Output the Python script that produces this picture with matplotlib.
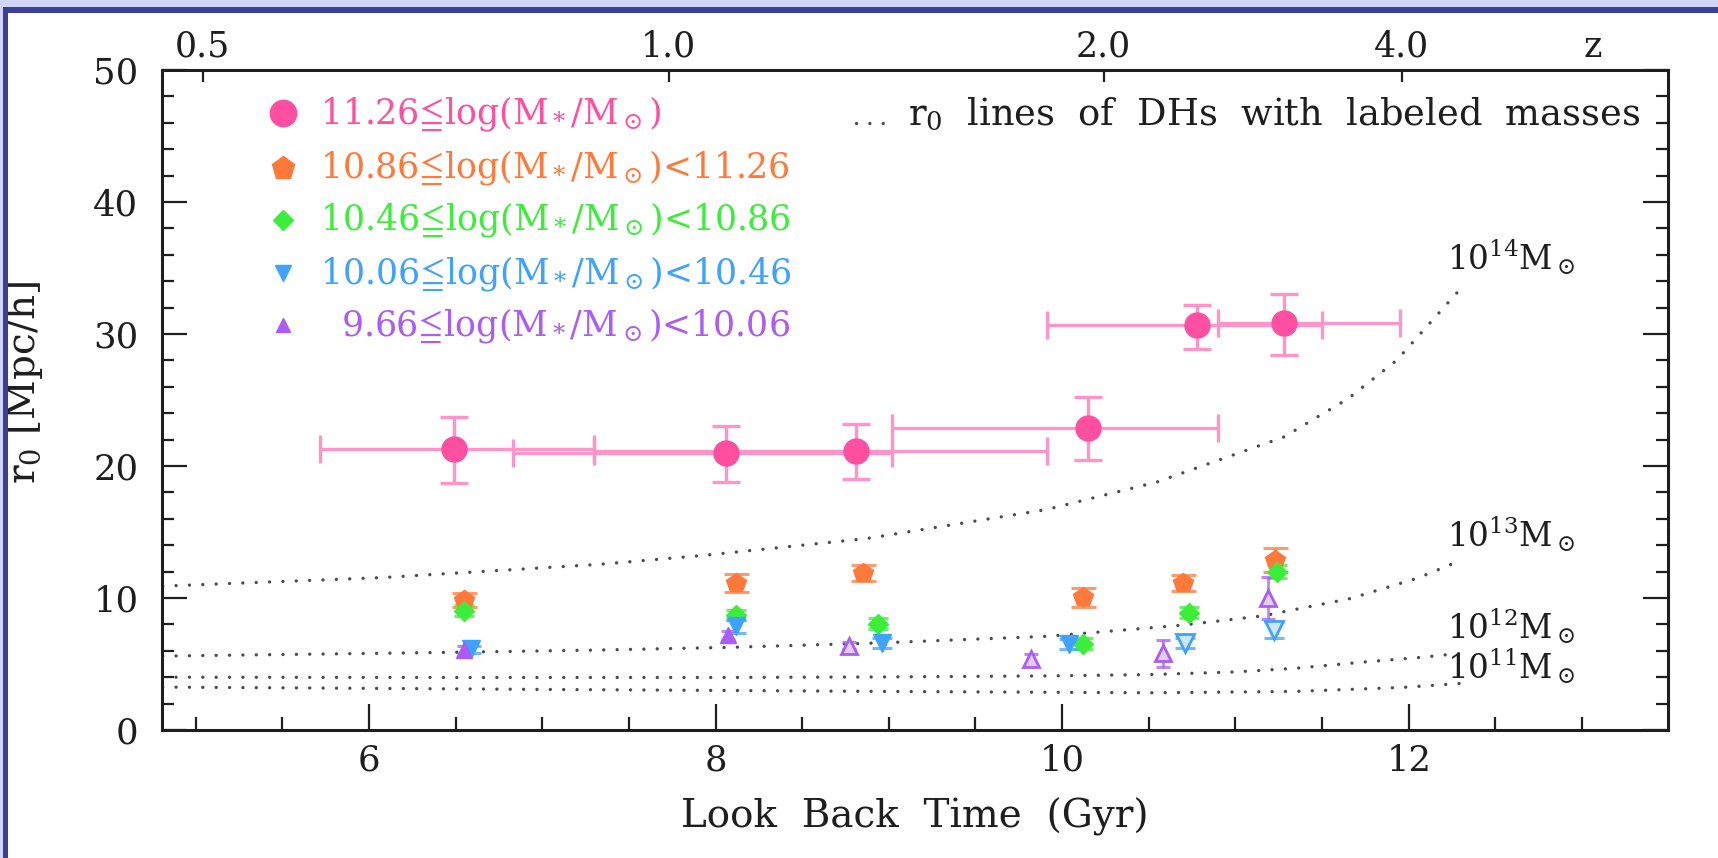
import matplotlib
matplotlib.use("Agg")
import matplotlib.pyplot as plt
from matplotlib.patches import Rectangle
from matplotlib.ticker import MultipleLocator, FixedLocator, FixedFormatter, NullLocator

plt.rcParams["font.family"] = ["DejaVu Serif", "DejaVu Sans"]
plt.rcParams["mathtext.fontset"] = "dejavuserif"

# ---------------------------------------------------------------- data
# redshift axis: tick values and the look-back times (Gyr) they sit at
z_ticks = [0.5, 1.0, 2.0, 4.0]
z_tick_lbt = [5.04, 7.73, 10.24, 11.96]

# 11.26 <= log(M*/Msun)  -- overlapping redshift bins
lbt_a = [6.49, 8.06, 8.81, 10.15, 10.78, 11.28]
lbt_a_lo = [5.72, 6.83, 7.30, 9.02, 9.91, 10.90]
lbt_a_hi = [7.30, 9.02, 9.91, 10.90, 11.50, 11.95]
r0_a = [21.3, 21.0, 21.15, 22.9, 30.7, 30.8]
r0_a_elo = [2.6, 2.2, 2.15, 2.45, 1.8, 2.4]
r0_a_ehi = [2.4, 2.0, 2.0, 2.3, 1.5, 2.2]

# 10.86 <= log(M*/Msun) < 11.26
lbt_b = [6.55, 8.12, 8.85, 10.12, 10.70, 11.23]
r0_b = [9.85, 11.15, 11.9, 10.05, 11.15, 12.9]
r0_b_err = [0.5, 0.7, 0.6, 0.7, 0.6, 0.9]

# 10.46 <= log(M*/Msun) < 10.86
lbt_c = [6.55, 8.12, 8.94, 10.12, 10.73, 11.24]
r0_c = [9.05, 8.7, 8.05, 6.55, 8.9, 12.0]
r0_c_err = [0.4, 0.4, 0.4, 0.4, 0.4, 0.5]

# 10.06 <= log(M*/Msun) < 10.46
lbt_d = [6.59, 8.12, 8.96, 10.04, 10.71, 11.22]
r0_d = [6.1, 7.85, 6.6, 6.5, 6.6, 7.6]
r0_d_err = [0.3, 0.5, 0.4, 0.4, 0.4, 0.6]

# 9.66 <= log(M*/Msun) < 10.06
lbt_e = [6.55, 8.07, 8.77, 9.82, 10.58, 11.19]
r0_e = [6.05, 7.2, 6.4, 5.35, 5.8, 10.0]
r0_e_err = [0.3, 0.3, 0.3, 0.4, 1.0, 1.6]

LEQ = r"$\!\leqq\!$"
bin_labels = [
    "11.26" + LEQ + r"log(M$_*$/M$_\odot$)",
    "10.86" + LEQ + r"log(M$_*$/M$_\odot$)<11.26",
    "10.46" + LEQ + r"log(M$_*$/M$_\odot$)<10.86",
    "10.06" + LEQ + r"log(M$_*$/M$_\odot$)<10.46",
    "9.66" + LEQ + r"log(M$_*$/M$_\odot$)<10.06",
]

# r0 of dark haloes of fixed mass versus look-back time
lbt_dh14 = [4.81, 6.08, 7.33, 7.91, 8.87, 9.91, 10.55, 11.28, 11.65, 11.93, 12.29]
r0_dh14 = [10.9, 11.55, 12.55, 13.2, 14.5, 16.7, 18.8, 22.2, 25.1, 28.0, 33.3]
lbt_dh13 = [4.81, 6.35, 7.33, 8.08, 8.95, 9.92, 10.70, 11.16, 11.66, 12.05, 12.31]
r0_dh13 = [5.6, 5.86, 6.06, 6.26, 6.6, 7.1, 7.95, 8.65, 9.95, 11.5, 12.9]
lbt_dh12 = [4.81, 6.5, 8.0, 9.0, 9.93, 10.51, 11.0, 11.34, 11.76, 12.07, 12.30]
r0_dh12 = [4.0, 3.98, 3.98, 4.02, 4.1, 4.2, 4.4, 4.67, 5.17, 5.5, 5.81]
lbt_dh11 = [4.81, 7.33, 9.0, 10.51, 11.34, 11.97, 12.315]
r0_dh11 = [3.25, 3.05, 2.92, 2.82, 2.92, 3.23, 3.54]
dh_labels = [r"10$^{14}$M$_\odot$", r"10$^{13}$M$_\odot$",
             r"10$^{12}$M$_\odot$", r"10$^{11}$M$_\odot$"]

# ---------------------------------------------------------------- style
PINK, PINK_BAR = "#ff4fa0", "#ff94c8"
ORANGE = "#ff7a3a"
GREEN = "#3aee3a"
BLUE = "#3fa2ff"
PURPLE = "#ab5cf6"
INK = "#1e1e1e"
DOT = "#4a4a4a"
DOTTED = (0, (0.01, 4.0))

W, H = 1718, 858
fig = plt.figure(figsize=(W / 100, H / 100), dpi=100)
fig.patch.set_facecolor("white")

# page frame
fig.patches.append(Rectangle((0, 1 - 7 / H), 1, 7 / H, transform=fig.transFigure,
                             facecolor="#d4d6f6", edgecolor="none", zorder=0))
fig.patches.append(Rectangle((0, 0), 3 / W, 1, transform=fig.transFigure,
                             facecolor="#d4d6f6", edgecolor="none", zorder=0))
fig.patches.append(Rectangle((3 / W, 1 - 12.5 / H), 1, 5.5 / H, transform=fig.transFigure,
                             facecolor="#3b3f99", edgecolor="none", zorder=1))
fig.patches.append(Rectangle((3 / W, 0), 5 / W, 1 - 7 / H, transform=fig.transFigure,
                             facecolor="#3b3f99", edgecolor="none", zorder=1))

ax = fig.add_axes([162 / W, 128 / H, 1506 / W, 660 / H])
ax.set_xlim(4.806, 13.496)
ax.set_ylim(0, 50)

# dark-halo reference curves
for xs, ys in [(lbt_dh14, r0_dh14), (lbt_dh13, r0_dh13),
               (lbt_dh12, r0_dh12), (lbt_dh11, r0_dh11)]:
    ax.plot(xs, ys, ls=DOTTED, lw=2.4, color=DOT, dash_capstyle="round", zorder=2)

label_x = 12.22
for lab, ybase in zip(dh_labels, [34.85, 13.9, 6.95, 3.92]):
    ax.text(label_x, ybase, lab, fontsize=23.5, color=INK, va="baseline", ha="left")

# most massive bin with horizontal bin widths
xerr_a = [[c - lo for c, lo in zip(lbt_a, lbt_a_lo)],
          [hi - c for c, hi in zip(lbt_a, lbt_a_hi)]]
ax.errorbar(lbt_a, r0_a, xerr=xerr_a, yerr=[r0_a_elo, r0_a_ehi], fmt="o", ms=18,
            mfc=PINK, mec=PINK, ecolor=PINK_BAR, elinewidth=2.4, capsize=10,
            capthick=2.4, zorder=5)

def small_series(xs, ys, err, marker, ms, color, cap, open_from=None, tint=None):
    n = len(xs)
    ax.errorbar(xs, ys, yerr=err, fmt="none", ecolor=color, elinewidth=2.0,
                capsize=cap, capthick=2.2, alpha=0.75, zorder=4)
    cut = n if open_from is None else open_from
    ax.plot(xs[:cut], ys[:cut], ls="none", marker=marker, ms=ms, mfc=color,
            mec=color, zorder=6)
    if cut < n:
        ax.plot(xs[cut:], ys[cut:], ls="none", marker=marker, ms=ms, mfc=tint,
                mec=color, mew=2.0, zorder=6)

small_series(lbt_b, r0_b, r0_b_err, "p", 15, ORANGE, 9)
small_series(lbt_c, r0_c, r0_c_err, "D", 10, GREEN, 7)
small_series(lbt_d, r0_d, r0_d_err, "v", 13, BLUE, 7, open_from=4, tint="#cfe6ff")
small_series(lbt_e, r0_e, r0_e_err, "^", 11, PURPLE, 5, open_from=2, tint="#e3ccfc")

# legend of stellar-mass bins
leg_marks = [("o", 19, PINK), ("p", 17, ORANGE), ("D", 10, GREEN),
             ("v", 12, BLUE), ("^", 10, PURPLE)]
leg_y = [46.72, 42.58, 38.64, 34.62, 30.68]
for (mk, ms, col), lab, yy in zip(leg_marks, bin_labels, leg_y):
    ax.plot([5.504], [yy], ls="none", marker=mk, ms=ms, mfc=col, mec=col,
            zorder=6, clip_on=False)
    tx = 5.836 if lab.startswith("9") else 5.715
    ax.text(tx, yy, lab, fontsize=25, color=col, va="center", ha="left")

# legend for the dotted curves
ax.plot([8.81, 8.99], [45.98, 45.98], ls=DOTTED, lw=2.4, color=DOT,
        dash_capstyle="round")
ax.text(9.11, 45.83, r"r$_0$  lines  of  DHs  with  labeled  masses", fontsize=26.5,
        color=INK, va="baseline", ha="left")

# axes cosmetics
for sp in ax.spines.values():
    sp.set_linewidth(2.2)
    sp.set_color(INK)
ax.xaxis.set_major_locator(MultipleLocator(2))
ax.xaxis.set_minor_locator(MultipleLocator(0.5))
ax.yaxis.set_major_locator(MultipleLocator(10))
ax.yaxis.set_minor_locator(MultipleLocator(2))
ax.tick_params(axis="x", which="both", direction="in", top=False, bottom=True,
               colors=INK, labelsize=25.5, pad=10)
ax.tick_params(axis="x", which="major", length=19, width=1.6)
ax.tick_params(axis="x", which="minor", length=9.5, width=1.6)
ax.tick_params(axis="y", which="both", direction="in", left=True, right=True,
               colors=INK, labelsize=25.5, pad=17)
ax.tick_params(axis="y", which="major", length=18, width=1.6)
ax.tick_params(axis="y", which="minor", length=8.5, width=1.6)

ax.set_xlabel("Look  Back  Time  (Gyr)", fontsize=28, color=INK, labelpad=14)
ax.set_ylabel(r"r$_0$ [Mpc/h]", fontsize=28, color=INK)
ax.yaxis.set_label_coords(-0.078, 0.526)

# redshift axis on top
top = ax.twiny()
top.set_xlim(ax.get_xlim())
top.xaxis.set_major_locator(FixedLocator(z_tick_lbt))
top.xaxis.set_major_formatter(FixedFormatter([f"{z:.1f}" for z in z_ticks]))
top.xaxis.set_minor_locator(NullLocator())
top.tick_params(axis="x", direction="in", length=8.5, width=1.6, colors=INK,
                labelsize=25, pad=5)
for sp in top.spines.values():
    sp.set_visible(False)
fig.text(1593 / W, 1 - 47 / H, "z", fontsize=25, color=INK, ha="center", va="center")

fig.savefig("out.png", dpi=100, facecolor=fig.get_facecolor())
